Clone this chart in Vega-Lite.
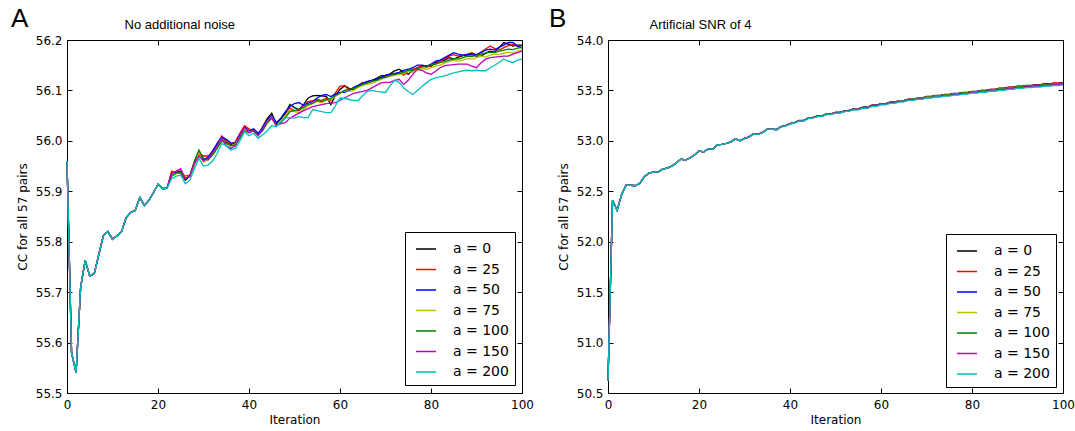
{
"$schema": "https://vega.github.io/schema/vega-lite/v6.json",
"autosize": {"type": "pad"},
"padding": {"left": 10, "top": 5, "right": 5, "bottom": 5},
"background": "white",
"bounds": "flush",
"spacing": 86,
"resolve": {"scale": {"color": "independent"}, "legend": {"color": "independent"}},
"config": {
  "font": "DejaVu Sans",
  "view": {"stroke": "#000", "strokeWidth": 1},
  "axis": {"domainColor": "#000", "tickColor": "#000", "labelColor": "#000", "titleColor": "#000", "labelFont": "DejaVu Sans", "titleFont": "DejaVu Sans", "labelFontSize": 12, "titleFontSize": 12, "titleFontWeight": "normal", "grid": false, "tickSize": -5, "labelFlush": false, "labelOverlap": false},
  "legend": {"title": null, "orient": "none", "symbolType": "stroke", "symbolSize": 400, "symbolStrokeWidth": 1.5, "symbolOffset": 4, "labelFont": "DejaVu Sans", "labelFontSize": 14, "labelColor": "#000", "labelOffset": 16, "rowPadding": 2.5, "padding": 6, "strokeColor": "#000", "fillColor": "white"},
  "title": {"font": "Liberation Sans", "fontSize": 26, "fontWeight": "normal", "color": "#000", "anchor": "start", "frame": "group"}
},
"hconcat": [
{
  "width": 455, "height": 353,
  "title": {"text": "A", "dx": -56, "dy": 18},
  "data": {"values": [
{"i":0,"a0":55.96,"a25":55.96,"a50":55.96,"a75":55.96,"a100":55.96,"a150":55.96,"a200":55.96},
{"i":1,"a0":55.58,"a25":55.58,"a50":55.58,"a75":55.58,"a100":55.58,"a150":55.58,"a200":55.58},
{"i":2,"a0":55.54,"a25":55.54,"a50":55.54,"a75":55.54,"a100":55.54,"a150":55.54,"a200":55.54},
{"i":3,"a0":55.71,"a25":55.71,"a50":55.71,"a75":55.71,"a100":55.71,"a150":55.71,"a200":55.71},
{"i":4,"a0":55.763,"a25":55.763,"a50":55.763,"a75":55.763,"a100":55.763,"a150":55.763,"a200":55.763},
{"i":5,"a0":55.732,"a25":55.732,"a50":55.732,"a75":55.732,"a100":55.732,"a150":55.732,"a200":55.732},
{"i":6,"a0":55.737,"a25":55.737,"a50":55.737,"a75":55.737,"a100":55.737,"a150":55.737,"a200":55.737},
{"i":7,"a0":55.775,"a25":55.775,"a50":55.775,"a75":55.775,"a100":55.775,"a150":55.775,"a200":55.775},
{"i":8,"a0":55.812,"a25":55.812,"a50":55.812,"a75":55.812,"a100":55.812,"a150":55.812,"a200":55.812},
{"i":9,"a0":55.82,"a25":55.82,"a50":55.82,"a75":55.82,"a100":55.82,"a150":55.82,"a200":55.82},
{"i":10,"a0":55.805,"a25":55.805,"a50":55.805,"a75":55.805,"a100":55.805,"a150":55.805,"a200":55.805},
{"i":11,"a0":55.812,"a25":55.812,"a50":55.812,"a75":55.812,"a100":55.812,"a150":55.812,"a200":55.812},
{"i":12,"a0":55.82,"a25":55.82,"a50":55.82,"a75":55.82,"a100":55.82,"a150":55.82,"a200":55.82},
{"i":13,"a0":55.848,"a25":55.848,"a50":55.848,"a75":55.848,"a100":55.848,"a150":55.848,"a200":55.848},
{"i":14,"a0":55.858,"a25":55.858,"a50":55.858,"a75":55.858,"a100":55.858,"a150":55.858,"a200":55.858},
{"i":15,"a0":55.862,"a25":55.862,"a50":55.862,"a75":55.862,"a100":55.862,"a150":55.862,"a200":55.862},
{"i":16,"a0":55.888,"a25":55.888,"a50":55.888,"a75":55.888,"a100":55.888,"a150":55.888,"a200":55.888},
{"i":17,"a0":55.872,"a25":55.872,"a50":55.872,"a75":55.872,"a100":55.872,"a150":55.872,"a200":55.872},
{"i":18,"a0":55.882,"a25":55.882,"a50":55.882,"a75":55.882,"a100":55.882,"a150":55.882,"a200":55.882},
{"i":19,"a0":55.897,"a25":55.897,"a50":55.897,"a75":55.897,"a100":55.897,"a150":55.897,"a200":55.897},
{"i":20,"a0":55.914,"a25":55.914,"a50":55.914,"a75":55.914,"a100":55.914,"a150":55.914,"a200":55.914},
{"i":21,"a0":55.905,"a25":55.905,"a50":55.905,"a75":55.905,"a100":55.905,"a150":55.905,"a200":55.905},
{"i":22,"a0":55.906,"a25":55.906,"a50":55.906,"a75":55.906,"a100":55.906,"a150":55.906,"a200":55.906},
{"i":23,"a0":55.937,"a25":55.94,"a50":55.935,"a75":55.932,"a100":55.93,"a150":55.935,"a200":55.925},
{"i":24,"a0":55.938,"a25":55.937,"a50":55.938,"a75":55.935,"a100":55.936,"a150":55.94,"a200":55.93},
{"i":25,"a0":55.94,"a25":55.938,"a50":55.935,"a75":55.937,"a100":55.938,"a150":55.945,"a200":55.932},
{"i":26,"a0":55.922,"a25":55.93,"a50":55.925,"a75":55.928,"a100":55.925,"a150":55.925,"a200":55.915},
{"i":27,"a0":55.93,"a25":55.932,"a50":55.93,"a75":55.93,"a100":55.93,"a150":55.93,"a200":55.922},
{"i":28,"a0":55.956,"a25":55.958,"a50":55.955,"a75":55.952,"a100":55.96,"a150":55.955,"a200":55.945},
{"i":29,"a0":55.976,"a25":55.975,"a50":55.972,"a75":55.975,"a100":55.982,"a150":55.97,"a200":55.965},
{"i":30,"a0":55.964,"a25":55.97,"a50":55.962,"a75":55.958,"a100":55.965,"a150":55.96,"a200":55.95},
{"i":31,"a0":55.965,"a25":55.97,"a50":55.968,"a75":55.962,"a100":55.962,"a150":55.965,"a200":55.952},
{"i":32,"a0":55.978,"a25":55.975,"a50":55.98,"a75":55.975,"a100":55.972,"a150":55.975,"a200":55.96},
{"i":33,"a0":55.993,"a25":55.99,"a50":55.995,"a75":55.988,"a100":55.985,"a150":55.99,"a200":55.975},
{"i":34,"a0":56.008,"a25":56.01,"a50":56.008,"a75":56.005,"a100":56.0,"a150":56.005,"a200":55.995},
{"i":35,"a0":55.997,"a25":56.0,"a50":56.003,"a75":55.995,"a100":55.995,"a150":55.99,"a200":55.99},
{"i":36,"a0":55.992,"a25":55.994,"a50":55.996,"a75":55.99,"a100":55.99,"a150":55.985,"a200":55.982},
{"i":37,"a0":55.996,"a25":55.998,"a50":55.995,"a75":55.994,"a100":55.992,"a150":55.99,"a200":55.985},
{"i":38,"a0":56.012,"a25":56.015,"a50":56.012,"a75":56.008,"a100":56.005,"a150":56.01,"a200":56.0},
{"i":39,"a0":56.028,"a25":56.03,"a50":56.026,"a75":56.025,"a100":56.02,"a150":56.026,"a200":56.018},
{"i":40,"a0":56.02,"a25":56.024,"a50":56.02,"a75":56.018,"a100":56.016,"a150":56.016,"a200":56.01},
{"i":41,"a0":56.022,"a25":56.02,"a50":56.024,"a75":56.02,"a100":56.02,"a150":56.02,"a200":56.015},
{"i":42,"a0":56.012,"a25":56.01,"a50":56.015,"a75":56.01,"a100":56.012,"a150":56.01,"a200":56.005},
{"i":43,"a0":56.028,"a25":56.025,"a50":56.025,"a75":56.022,"a100":56.02,"a150":56.022,"a200":56.012},
{"i":44,"a0":56.044,"a25":56.04,"a50":56.042,"a75":56.038,"a100":56.035,"a150":56.04,"a200":56.02},
{"i":45,"a0":56.055,"a25":56.05,"a50":56.05,"a75":56.047,"a100":56.045,"a150":56.045,"a200":56.03},
{"i":46,"a0":56.034,"a25":56.03,"a50":56.036,"a75":56.03,"a100":56.032,"a150":56.03,"a200":56.028},
{"i":47,"a0":56.043,"a25":56.038,"a50":56.045,"a75":56.04,"a100":56.036,"a150":56.034,"a200":56.038},
{"i":48,"a0":56.055,"a25":56.05,"a50":56.058,"a75":56.05,"a100":56.046,"a150":56.036,"a200":56.046},
{"i":49,"a0":56.072,"a25":56.065,"a50":56.068,"a75":56.062,"a100":56.058,"a150":56.045,"a200":56.046},
{"i":50,"a0":56.066,"a25":56.06,"a50":56.074,"a75":56.058,"a100":56.06,"a150":56.05,"a200":56.045},
{"i":51,"a0":56.062,"a25":56.06,"a50":56.076,"a75":56.056,"a100":56.062,"a150":56.055,"a200":56.048},
{"i":52,"a0":56.072,"a25":56.07,"a50":56.07,"a75":56.062,"a100":56.066,"a150":56.06,"a200":56.046},
{"i":53,"a0":56.085,"a25":56.078,"a50":56.075,"a75":56.07,"a100":56.072,"a150":56.064,"a200":56.046},
{"i":54,"a0":56.089,"a25":56.08,"a50":56.078,"a75":56.074,"a100":56.075,"a150":56.068,"a200":56.062},
{"i":55,"a0":56.09,"a25":56.082,"a50":56.085,"a75":56.078,"a100":56.08,"a150":56.07,"a200":56.06},
{"i":56,"a0":56.089,"a25":56.08,"a50":56.09,"a75":56.076,"a100":56.078,"a150":56.072,"a200":56.058},
{"i":57,"a0":56.088,"a25":56.085,"a50":56.092,"a75":56.08,"a100":56.082,"a150":56.074,"a200":56.056},
{"i":58,"a0":56.072,"a25":56.08,"a50":56.088,"a75":56.082,"a100":56.084,"a150":56.075,"a200":56.056},
{"i":59,"a0":56.09,"a25":56.095,"a50":56.093,"a75":56.088,"a100":56.09,"a150":56.076,"a200":56.07},
{"i":60,"a0":56.102,"a25":56.108,"a50":56.096,"a75":56.094,"a100":56.095,"a150":56.08,"a200":56.085},
{"i":61,"a0":56.109,"a25":56.11,"a50":56.096,"a75":56.1,"a100":56.1,"a150":56.085,"a200":56.084},
{"i":62,"a0":56.104,"a25":56.1,"a50":56.1,"a75":56.098,"a100":56.102,"a150":56.09,"a200":56.082},
{"i":63,"a0":56.102,"a25":56.104,"a50":56.106,"a75":56.1,"a100":56.104,"a150":56.094,"a200":56.08},
{"i":64,"a0":56.108,"a25":56.11,"a50":56.11,"a75":56.106,"a100":56.108,"a150":56.096,"a200":56.08},
{"i":65,"a0":56.114,"a25":56.116,"a50":56.114,"a75":56.11,"a100":56.112,"a150":56.098,"a200":56.09},
{"i":66,"a0":56.117,"a25":56.115,"a50":56.118,"a75":56.112,"a100":56.115,"a150":56.1,"a200":56.098},
{"i":67,"a0":56.12,"a25":56.118,"a50":56.12,"a75":56.114,"a100":56.118,"a150":56.105,"a200":56.1},
{"i":68,"a0":56.124,"a25":56.122,"a50":56.122,"a75":56.118,"a100":56.12,"a150":56.11,"a200":56.098},
{"i":69,"a0":56.129,"a25":56.125,"a50":56.126,"a75":56.122,"a100":56.124,"a150":56.115,"a200":56.097},
{"i":70,"a0":56.13,"a25":56.128,"a50":56.13,"a75":56.126,"a100":56.126,"a150":56.116,"a200":56.096},
{"i":71,"a0":56.133,"a25":56.132,"a50":56.132,"a75":56.128,"a100":56.13,"a150":56.116,"a200":56.109},
{"i":72,"a0":56.139,"a25":56.132,"a50":56.134,"a75":56.13,"a100":56.132,"a150":56.12,"a200":56.12},
{"i":73,"a0":56.142,"a25":56.135,"a50":56.136,"a75":56.132,"a100":56.134,"a150":56.122,"a200":56.116},
{"i":74,"a0":56.136,"a25":56.13,"a50":56.14,"a75":56.134,"a100":56.136,"a150":56.112,"a200":56.105},
{"i":75,"a0":56.132,"a25":56.138,"a50":56.142,"a75":56.138,"a100":56.14,"a150":56.12,"a200":56.098},
{"i":76,"a0":56.14,"a25":56.142,"a50":56.145,"a75":56.136,"a100":56.14,"a150":56.132,"a200":56.092},
{"i":77,"a0":56.145,"a25":56.145,"a50":56.15,"a75":56.14,"a100":56.143,"a150":56.142,"a200":56.1},
{"i":78,"a0":56.149,"a25":56.148,"a50":56.15,"a75":56.143,"a100":56.146,"a150":56.14,"a200":56.108},
{"i":79,"a0":56.149,"a25":56.146,"a50":56.148,"a75":56.142,"a100":56.148,"a150":56.135,"a200":56.115},
{"i":80,"a0":56.148,"a25":56.15,"a50":56.152,"a75":56.145,"a100":56.15,"a150":56.132,"a200":56.122},
{"i":81,"a0":56.155,"a25":56.153,"a50":56.158,"a75":56.148,"a100":56.152,"a150":56.138,"a200":56.125},
{"i":82,"a0":56.158,"a25":56.158,"a50":56.16,"a75":56.15,"a100":56.155,"a150":56.145,"a200":56.127},
{"i":83,"a0":56.16,"a25":56.163,"a50":56.165,"a75":56.154,"a100":56.157,"a150":56.149,"a200":56.129},
{"i":84,"a0":56.165,"a25":56.168,"a50":56.17,"a75":56.157,"a100":56.16,"a150":56.15,"a200":56.132},
{"i":85,"a0":56.162,"a25":56.171,"a50":56.175,"a75":56.16,"a100":56.163,"a150":56.151,"a200":56.135},
{"i":86,"a0":56.166,"a25":56.168,"a50":56.172,"a75":56.158,"a100":56.162,"a150":56.152,"a200":56.137},
{"i":87,"a0":56.169,"a25":56.17,"a50":56.17,"a75":56.16,"a100":56.165,"a150":56.152,"a200":56.139},
{"i":88,"a0":56.17,"a25":56.172,"a50":56.171,"a75":56.163,"a100":56.168,"a150":56.152,"a200":56.14},
{"i":89,"a0":56.171,"a25":56.175,"a50":56.173,"a75":56.162,"a100":56.167,"a150":56.148,"a200":56.139},
{"i":90,"a0":56.168,"a25":56.17,"a50":56.171,"a75":56.165,"a100":56.17,"a150":56.145,"a200":56.14},
{"i":91,"a0":56.168,"a25":56.176,"a50":56.175,"a75":56.168,"a100":56.172,"a150":56.155,"a200":56.139},
{"i":92,"a0":56.174,"a25":56.182,"a50":56.18,"a75":56.166,"a100":56.174,"a150":56.162,"a200":56.139},
{"i":93,"a0":56.178,"a25":56.188,"a50":56.182,"a75":56.17,"a100":56.176,"a150":56.165,"a200":56.145},
{"i":94,"a0":56.176,"a25":56.183,"a50":56.18,"a75":56.172,"a100":56.175,"a150":56.166,"a200":56.15},
{"i":95,"a0":56.185,"a25":56.18,"a50":56.186,"a75":56.171,"a100":56.178,"a150":56.167,"a200":56.156},
{"i":96,"a0":56.195,"a25":56.185,"a50":56.19,"a75":56.174,"a100":56.18,"a150":56.168,"a200":56.162},
{"i":97,"a0":56.192,"a25":56.189,"a50":56.195,"a75":56.176,"a100":56.182,"a150":56.168,"a200":56.158},
{"i":98,"a0":56.188,"a25":56.191,"a50":56.195,"a75":56.174,"a100":56.181,"a150":56.172,"a200":56.155},
{"i":99,"a0":56.19,"a25":56.188,"a50":56.188,"a75":56.178,"a100":56.184,"a150":56.175,"a200":56.16},
{"i":100,"a0":56.19,"a25":56.185,"a50":56.185,"a75":56.18,"a100":56.185,"a150":56.178,"a200":56.162}
  ]},
  "transform": [{"fold": ["a0","a25","a50","a75","a100","a150","a200"], "as": ["a","v"]}],
  "layer": [
    {"mark": {"type": "line", "strokeWidth": 1.3},
     "encoding": {
       "x": {"field": "i", "type": "quantitative", "scale": {"domain": [0,100], "nice": false}, "axis": {"values": [0,20,40,60,80,100], "labelPadding": 11, "title": "Iteration", "titlePadding": 4}},
       "y": {"field": "v", "type": "quantitative", "scale": {"domain": [55.5,56.2], "nice": false, "zero": false}, "axis": {"values": [55.5,55.6,55.7,55.8,55.9,56.0,56.1,56.2], "format": ".1f", "labelPadding": 10, "title": "CC for all 57 pairs", "titlePadding": 6}},
       "color": {"field": "a", "type": "nominal", "scale": {"domain": ["a0","a25","a50","a75","a100","a150","a200"], "range": ["#000000","#ff0000","#0000ff","#bfbf00","#008000","#bf00bf","#00bfbf"]}, "legend": {"orient": "none", "legendX": 338, "legendY": 192, "labelExpr": "replace(datum.label, 'a', 'a = ')"}}
     }},
    {"transform": [{"filter": {"field": "i", "equal": 0}}],
     "mark": {"type": "point", "opacity": 0},
     "encoding": {
       "x": {"field": "i", "type": "quantitative", "scale": {"domain": [0,100], "nice": false}, "axis": {"orient": "top", "labels": false, "values": [0,20,40,60,80,100], "title": "No additional noise", "titleFont": "Liberation Sans", "titleFontSize": 13, "titleX": 57, "titleY": -12, "titleAlign": "left", "titleAnchor": "start", "titleBaseline": "alphabetic", "titleAngle": 0}},
       "y": {"field": "v", "type": "quantitative", "scale": {"domain": [55.5,56.2], "nice": false, "zero": false}, "axis": {"orient": "right", "labels": false, "values": [55.5,55.6,55.7,55.8,55.9,56.0,56.1,56.2], "title": null}}
     }}
  ],
  "resolve": {"axis": {"x": "independent", "y": "independent"}}
},
{
  "width": 455, "height": 353,
  "title": {"text": "B", "dx": -59, "dy": 18},
  "data": {"values": [
{"i":0,"a0":50.62,"a25":50.62,"a50":50.62,"a75":50.62,"a100":50.62,"a150":50.62,"a200":50.62},
{"i":1,"a0":52.41,"a25":52.41,"a50":52.41,"a75":52.41,"a100":52.41,"a150":52.41,"a200":52.41},
{"i":2,"a0":52.31,"a25":52.31,"a50":52.31,"a75":52.31,"a100":52.31,"a150":52.31,"a200":52.31},
{"i":3,"a0":52.47,"a25":52.47,"a50":52.47,"a75":52.47,"a100":52.47,"a150":52.47,"a200":52.47},
{"i":4,"a0":52.56,"a25":52.56,"a50":52.56,"a75":52.56,"a100":52.56,"a150":52.56,"a200":52.56},
{"i":5,"a0":52.56,"a25":52.56,"a50":52.56,"a75":52.56,"a100":52.56,"a150":52.56,"a200":52.56},
{"i":6,"a0":52.555,"a25":52.555,"a50":52.555,"a75":52.555,"a100":52.555,"a150":52.555,"a200":52.555},
{"i":7,"a0":52.58,"a25":52.58,"a50":52.58,"a75":52.58,"a100":52.58,"a150":52.58,"a200":52.58},
{"i":8,"a0":52.645,"a25":52.645,"a50":52.645,"a75":52.645,"a100":52.645,"a150":52.645,"a200":52.645},
{"i":9,"a0":52.68,"a25":52.68,"a50":52.68,"a75":52.68,"a100":52.68,"a150":52.68,"a200":52.68},
{"i":10,"a0":52.69,"a25":52.69,"a50":52.69,"a75":52.69,"a100":52.69,"a150":52.69,"a200":52.69},
{"i":11,"a0":52.69,"a25":52.69,"a50":52.69,"a75":52.69,"a100":52.69,"a150":52.69,"a200":52.69},
{"i":12,"a0":52.72,"a25":52.72,"a50":52.72,"a75":52.72,"a100":52.72,"a150":52.72,"a200":52.72},
{"i":13,"a0":52.73,"a25":52.73,"a50":52.73,"a75":52.73,"a100":52.73,"a150":52.73,"a200":52.73},
{"i":14,"a0":52.75,"a25":52.75,"a50":52.75,"a75":52.75,"a100":52.75,"a150":52.75,"a200":52.75},
{"i":15,"a0":52.78,"a25":52.78,"a50":52.78,"a75":52.78,"a100":52.78,"a150":52.78,"a200":52.78},
{"i":16,"a0":52.82,"a25":52.82,"a50":52.82,"a75":52.82,"a100":52.82,"a150":52.82,"a200":52.82},
{"i":17,"a0":52.81,"a25":52.81,"a50":52.81,"a75":52.81,"a100":52.81,"a150":52.81,"a200":52.81},
{"i":18,"a0":52.83,"a25":52.83,"a50":52.83,"a75":52.83,"a100":52.83,"a150":52.83,"a200":52.83},
{"i":19,"a0":52.86,"a25":52.86,"a50":52.86,"a75":52.86,"a100":52.86,"a150":52.86,"a200":52.86},
{"i":20,"a0":52.9,"a25":52.9,"a50":52.9,"a75":52.9,"a100":52.9,"a150":52.9,"a200":52.9},
{"i":21,"a0":52.89,"a25":52.89,"a50":52.89,"a75":52.89,"a100":52.89,"a150":52.89,"a200":52.89},
{"i":22,"a0":52.92,"a25":52.92,"a50":52.92,"a75":52.92,"a100":52.92,"a150":52.92,"a200":52.92},
{"i":23,"a0":52.915,"a25":52.915,"a50":52.915,"a75":52.915,"a100":52.915,"a150":52.915,"a200":52.915},
{"i":24,"a0":52.96,"a25":52.96,"a50":52.96,"a75":52.96,"a100":52.96,"a150":52.96,"a200":52.96},
{"i":25,"a0":52.965,"a25":52.965,"a50":52.965,"a75":52.965,"a100":52.965,"a150":52.965,"a200":52.965},
{"i":26,"a0":52.975,"a25":52.975,"a50":52.975,"a75":52.975,"a100":52.975,"a150":52.975,"a200":52.975},
{"i":27,"a0":52.99,"a25":52.99,"a50":52.99,"a75":52.99,"a100":52.99,"a150":52.99,"a200":52.99},
{"i":28,"a0":53.02,"a25":53.02,"a50":53.02,"a75":53.02,"a100":53.02,"a150":53.024,"a200":53.02},
{"i":29,"a0":53.0,"a25":53.0,"a50":53.0,"a75":53.0,"a100":53.0,"a150":53.0,"a200":52.998},
{"i":30,"a0":53.025,"a25":53.025,"a50":53.025,"a75":53.025,"a100":53.025,"a150":53.025,"a200":53.023},
{"i":31,"a0":53.04,"a25":53.04,"a50":53.04,"a75":53.04,"a100":53.04,"a150":53.04,"a200":53.038},
{"i":32,"a0":53.07,"a25":53.07,"a50":53.07,"a75":53.07,"a100":53.07,"a150":53.069,"a200":53.069},
{"i":33,"a0":53.065,"a25":53.065,"a50":53.065,"a75":53.065,"a100":53.065,"a150":53.064,"a200":53.064},
{"i":34,"a0":53.086,"a25":53.086,"a50":53.085,"a75":53.085,"a100":53.085,"a150":53.084,"a200":53.083},
{"i":35,"a0":53.116,"a25":53.116,"a50":53.115,"a75":53.115,"a100":53.115,"a150":53.114,"a200":53.113},
{"i":36,"a0":53.121,"a25":53.121,"a50":53.12,"a75":53.12,"a100":53.12,"a150":53.119,"a200":53.118},
{"i":37,"a0":53.111,"a25":53.111,"a50":53.11,"a75":53.11,"a100":53.11,"a150":53.106,"a200":53.108},
{"i":38,"a0":53.141,"a25":53.141,"a50":53.141,"a75":53.14,"a100":53.14,"a150":53.138,"a200":53.137},
{"i":39,"a0":53.151,"a25":53.151,"a50":53.151,"a75":53.15,"a100":53.15,"a150":53.148,"a200":53.147},
{"i":40,"a0":53.171,"a25":53.171,"a50":53.171,"a75":53.17,"a100":53.17,"a150":53.168,"a200":53.167},
{"i":41,"a0":53.181,"a25":53.181,"a50":53.181,"a75":53.18,"a100":53.18,"a150":53.178,"a200":53.177},
{"i":42,"a0":53.202,"a25":53.201,"a50":53.201,"a75":53.2,"a100":53.2,"a150":53.198,"a200":53.196},
{"i":43,"a0":53.202,"a25":53.201,"a50":53.201,"a75":53.2,"a100":53.2,"a150":53.198,"a200":53.196},
{"i":44,"a0":53.227,"a25":53.226,"a50":53.226,"a75":53.225,"a100":53.225,"a150":53.223,"a200":53.221},
{"i":45,"a0":53.232,"a25":53.231,"a50":53.231,"a75":53.23,"a100":53.23,"a150":53.228,"a200":53.226},
{"i":46,"a0":53.247,"a25":53.247,"a50":53.246,"a75":53.245,"a100":53.244,"a150":53.242,"a200":53.24},
{"i":47,"a0":53.247,"a25":53.247,"a50":53.246,"a75":53.245,"a100":53.244,"a150":53.242,"a200":53.24},
{"i":48,"a0":53.267,"a25":53.267,"a50":53.266,"a75":53.265,"a100":53.264,"a150":53.262,"a200":53.26},
{"i":49,"a0":53.267,"a25":53.267,"a50":53.266,"a75":53.265,"a100":53.264,"a150":53.262,"a200":53.26},
{"i":50,"a0":53.283,"a25":53.282,"a50":53.281,"a75":53.28,"a100":53.279,"a150":53.277,"a200":53.274},
{"i":51,"a0":53.283,"a25":53.282,"a50":53.281,"a75":53.28,"a100":53.279,"a150":53.277,"a200":53.274},
{"i":52,"a0":53.298,"a25":53.297,"a50":53.296,"a75":53.295,"a100":53.294,"a150":53.292,"a200":53.289},
{"i":53,"a0":53.303,"a25":53.302,"a50":53.301,"a75":53.3,"a100":53.299,"a150":53.297,"a200":53.294},
{"i":54,"a0":53.318,"a25":53.317,"a50":53.316,"a75":53.315,"a100":53.314,"a150":53.311,"a200":53.308},
{"i":55,"a0":53.318,"a25":53.317,"a50":53.316,"a75":53.315,"a100":53.314,"a150":53.311,"a200":53.308},
{"i":56,"a0":53.333,"a25":53.332,"a50":53.331,"a75":53.33,"a100":53.329,"a150":53.326,"a200":53.323},
{"i":57,"a0":53.333,"a25":53.332,"a50":53.331,"a75":53.33,"a100":53.329,"a150":53.326,"a200":53.323},
{"i":58,"a0":53.354,"a25":53.353,"a50":53.351,"a75":53.35,"a100":53.349,"a150":53.346,"a200":53.342},
{"i":59,"a0":53.354,"a25":53.353,"a50":53.351,"a75":53.35,"a100":53.349,"a150":53.346,"a200":53.342},
{"i":60,"a0":53.369,"a25":53.368,"a50":53.366,"a75":53.365,"a100":53.364,"a150":53.361,"a200":53.357},
{"i":61,"a0":53.369,"a25":53.368,"a50":53.366,"a75":53.365,"a100":53.364,"a150":53.361,"a200":53.357},
{"i":62,"a0":53.384,"a25":53.383,"a50":53.382,"a75":53.38,"a100":53.379,"a150":53.375,"a200":53.371},
{"i":63,"a0":53.384,"a25":53.383,"a50":53.382,"a75":53.38,"a100":53.379,"a150":53.375,"a200":53.371},
{"i":64,"a0":53.399,"a25":53.398,"a50":53.397,"a75":53.395,"a100":53.394,"a150":53.39,"a200":53.386},
{"i":65,"a0":53.399,"a25":53.398,"a50":53.397,"a75":53.395,"a100":53.394,"a150":53.39,"a200":53.386},
{"i":66,"a0":53.414,"a25":53.413,"a50":53.412,"a75":53.41,"a100":53.409,"a150":53.404,"a200":53.401},
{"i":67,"a0":53.414,"a25":53.413,"a50":53.412,"a75":53.41,"a100":53.409,"a150":53.404,"a200":53.401},
{"i":68,"a0":53.424,"a25":53.423,"a50":53.422,"a75":53.42,"a100":53.419,"a150":53.414,"a200":53.411},
{"i":69,"a0":53.424,"a25":53.423,"a50":53.422,"a75":53.42,"a100":53.419,"a150":53.414,"a200":53.411},
{"i":70,"a0":53.44,"a25":53.439,"a50":53.437,"a75":53.435,"a100":53.434,"a150":53.429,"a200":53.425},
{"i":71,"a0":53.44,"a25":53.439,"a50":53.437,"a75":53.435,"a100":53.434,"a150":53.429,"a200":53.425},
{"i":72,"a0":53.45,"a25":53.449,"a50":53.447,"a75":53.445,"a100":53.444,"a150":53.439,"a200":53.435},
{"i":73,"a0":53.45,"a25":53.449,"a50":53.447,"a75":53.445,"a100":53.444,"a150":53.439,"a200":53.435},
{"i":74,"a0":53.46,"a25":53.459,"a50":53.457,"a75":53.455,"a100":53.454,"a150":53.448,"a200":53.444},
{"i":75,"a0":53.46,"a25":53.459,"a50":53.457,"a75":53.455,"a100":53.454,"a150":53.448,"a200":53.444},
{"i":76,"a0":53.47,"a25":53.469,"a50":53.467,"a75":53.465,"a100":53.464,"a150":53.458,"a200":53.454},
{"i":77,"a0":53.47,"a25":53.469,"a50":53.467,"a75":53.465,"a100":53.464,"a150":53.458,"a200":53.454},
{"i":78,"a0":53.481,"a25":53.479,"a50":53.477,"a75":53.475,"a100":53.474,"a150":53.468,"a200":53.463},
{"i":79,"a0":53.481,"a25":53.479,"a50":53.477,"a75":53.475,"a100":53.474,"a150":53.468,"a200":53.463},
{"i":80,"a0":53.491,"a25":53.489,"a50":53.487,"a75":53.485,"a100":53.484,"a150":53.478,"a200":53.473},
{"i":81,"a0":53.491,"a25":53.489,"a50":53.487,"a75":53.485,"a100":53.484,"a150":53.478,"a200":53.473},
{"i":82,"a0":53.501,"a25":53.5,"a50":53.497,"a75":53.495,"a100":53.493,"a150":53.487,"a200":53.482},
{"i":83,"a0":53.501,"a25":53.5,"a50":53.497,"a75":53.495,"a100":53.493,"a150":53.487,"a200":53.482},
{"i":84,"a0":53.511,"a25":53.51,"a50":53.507,"a75":53.505,"a100":53.503,"a150":53.497,"a200":53.492},
{"i":85,"a0":53.511,"a25":53.51,"a50":53.507,"a75":53.505,"a100":53.503,"a150":53.497,"a200":53.492},
{"i":86,"a0":53.522,"a25":53.52,"a50":53.518,"a75":53.515,"a100":53.513,"a150":53.507,"a200":53.501},
{"i":87,"a0":53.522,"a25":53.52,"a50":53.518,"a75":53.515,"a100":53.513,"a150":53.507,"a200":53.501},
{"i":88,"a0":53.532,"a25":53.53,"a50":53.528,"a75":53.525,"a100":53.523,"a150":53.517,"a200":53.511},
{"i":89,"a0":53.532,"a25":53.53,"a50":53.528,"a75":53.525,"a100":53.523,"a150":53.517,"a200":53.511},
{"i":90,"a0":53.542,"a25":53.54,"a50":53.538,"a75":53.535,"a100":53.533,"a150":53.526,"a200":53.52},
{"i":91,"a0":53.542,"a25":53.54,"a50":53.538,"a75":53.535,"a100":53.533,"a150":53.526,"a200":53.52},
{"i":92,"a0":53.55,"a25":53.548,"a50":53.546,"a75":53.543,"a100":53.541,"a150":53.534,"a200":53.528},
{"i":93,"a0":53.55,"a25":53.548,"a50":53.546,"a75":53.543,"a100":53.541,"a150":53.534,"a200":53.528},
{"i":94,"a0":53.558,"a25":53.556,"a50":53.553,"a75":53.55,"a100":53.548,"a150":53.541,"a200":53.534},
{"i":95,"a0":53.558,"a25":53.556,"a50":53.553,"a75":53.55,"a100":53.548,"a150":53.541,"a200":53.534},
{"i":96,"a0":53.566,"a25":53.564,"a50":53.561,"a75":53.558,"a100":53.556,"a150":53.549,"a200":53.542},
{"i":97,"a0":53.566,"a25":53.564,"a50":53.561,"a75":53.558,"a100":53.556,"a150":53.549,"a200":53.542},
{"i":98,"a0":53.573,"a25":53.571,"a50":53.568,"a75":53.565,"a100":53.563,"a150":53.555,"a200":53.548},
{"i":99,"a0":53.573,"a25":53.571,"a50":53.568,"a75":53.565,"a100":53.563,"a150":53.555,"a200":53.548},
{"i":100,"a0":53.58,"a25":53.578,"a50":53.575,"a75":53.572,"a100":53.57,"a150":53.562,"a200":53.555}
  ]},
  "transform": [{"fold": ["a0","a25","a50","a75","a100","a150","a200"], "as": ["a","v"]}],
  "layer": [
    {"mark": {"type": "line", "strokeWidth": 1.3},
     "encoding": {
       "x": {"field": "i", "type": "quantitative", "scale": {"domain": [0,100], "nice": false}, "axis": {"values": [0,20,40,60,80,100], "labelPadding": 11, "title": "Iteration", "titlePadding": 4}},
       "y": {"field": "v", "type": "quantitative", "scale": {"domain": [50.5,54.0], "nice": false, "zero": false}, "axis": {"values": [50.5,51.0,51.5,52.0,52.5,53.0,53.5,54.0], "format": ".1f", "labelPadding": 10, "title": "CC for all 57 pairs", "titlePadding": 6}},
       "color": {"field": "a", "type": "nominal", "scale": {"domain": ["a0","a25","a50","a75","a100","a150","a200"], "range": ["#000000","#ff0000","#0000ff","#bfbf00","#008000","#bf00bf","#00bfbf"]}, "legend": {"orient": "none", "legendX": 338, "legendY": 194, "labelExpr": "replace(datum.label, 'a', 'a = ')"}}
     }},
    {"transform": [{"filter": {"field": "i", "equal": 0}}],
     "mark": {"type": "point", "opacity": 0},
     "encoding": {
       "x": {"field": "i", "type": "quantitative", "scale": {"domain": [0,100], "nice": false}, "axis": {"orient": "top", "labels": false, "values": [0,20,40,60,80,100], "title": "Artificial SNR of 4", "titleFont": "Liberation Sans", "titleFontSize": 13, "titleX": 41, "titleY": -12, "titleAlign": "left", "titleAnchor": "start", "titleBaseline": "alphabetic", "titleAngle": 0}},
       "y": {"field": "v", "type": "quantitative", "scale": {"domain": [50.5,54.0], "nice": false, "zero": false}, "axis": {"orient": "right", "labels": false, "values": [50.5,51.0,51.5,52.0,52.5,53.0,53.5,54.0], "title": null}}
     }}
  ],
  "resolve": {"axis": {"x": "independent", "y": "independent"}}
}
]
}
